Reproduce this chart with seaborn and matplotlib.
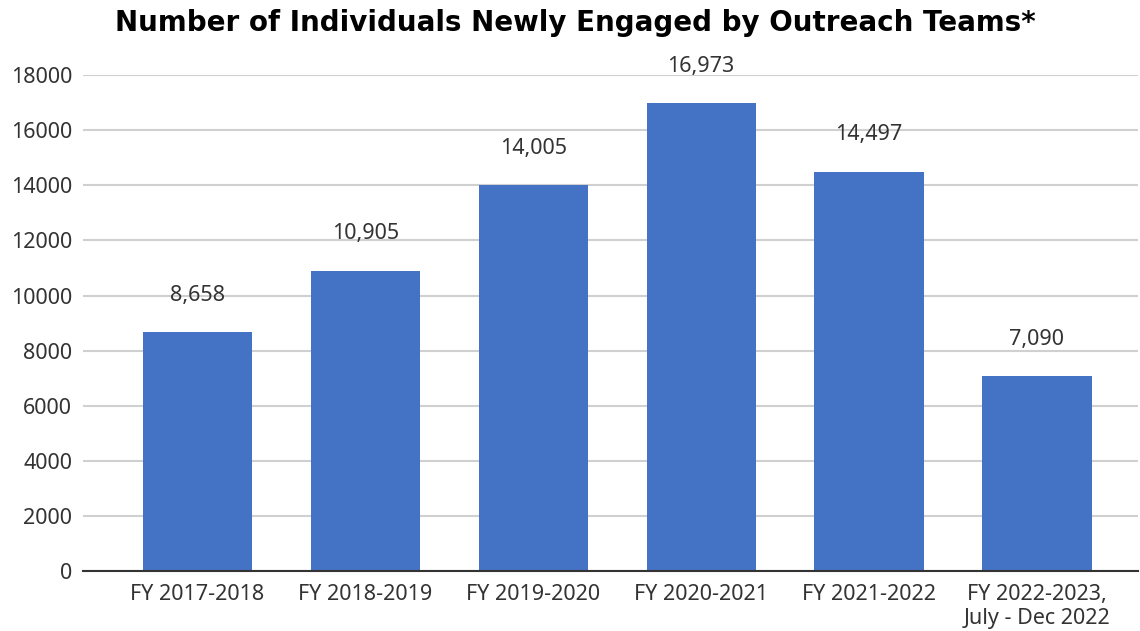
import matplotlib
matplotlib.use("Agg")
import matplotlib.pyplot as plt
import seaborn as sns
import pandas as pd

categories = ["FY 2017-2018", "FY 2018-2019", "FY 2019-2020", "FY 2020-2021",
              "FY 2021-2022", "FY 2022-2023,\nJuly - Dec 2022"]
engaged = [8658, 10905, 14005, 16973, 14497, 7090]
y_ticks = [0, 2000, 4000, 6000, 8000, 10000, 12000, 14000, 16000, 18000]

df = pd.DataFrame({"period": categories, "count": engaged})

sns.set_theme(style="white")
plt.rcParams["font.family"] = ["Noto Sans", "DejaVu Sans"]
plt.rcParams["font.stretch"] = "normal"

fig = plt.figure(figsize=(11.4, 6.31), dpi=100)
ax = fig.add_axes([0.073, 0.095, 0.925, 0.786])

sns.barplot(data=df, x="period", y="count", color="#4472C4", width=0.65,
            saturation=1, linewidth=0, edgecolor="none", ax=ax, zorder=3)

ax.set_ylim(0, 18000)
ax.set_xlim(-0.68, 5.6)
ax.set_yticks(y_ticks)
ax.set_yticklabels([str(t) for t in y_ticks])
ax.yaxis.grid(True, color="#d0d0d0", linewidth=1.5, zorder=0)
ax.set_axisbelow(True)
for s in ["top", "right", "left"]:
    ax.spines[s].set_visible(False)
ax.spines["bottom"].set_color("#333333")
ax.spines["bottom"].set_linewidth(1.5)
ax.spines["bottom"].set_zorder(4)
ax.tick_params(axis="both", length=0, labelsize=15.5, colors="#333333", pad=8)
ax.tick_params(axis="x", pad=9)
ax.set_xlabel("")
ax.set_ylabel("")

for i, v in enumerate(engaged):
    ax.text(i, v + 950, f"{v:,}", ha="center", va="bottom", fontsize=15.5,
            color="#333333", zorder=5)

fig.text(0.505, 0.963, "Number of Individuals Newly Engaged by Outreach Teams*",
         ha="center", va="center", fontsize=20, fontweight="heavy",
         family=["DejaVu Sans"], color="black")

fig.savefig("out.png", dpi=100, facecolor="white")
